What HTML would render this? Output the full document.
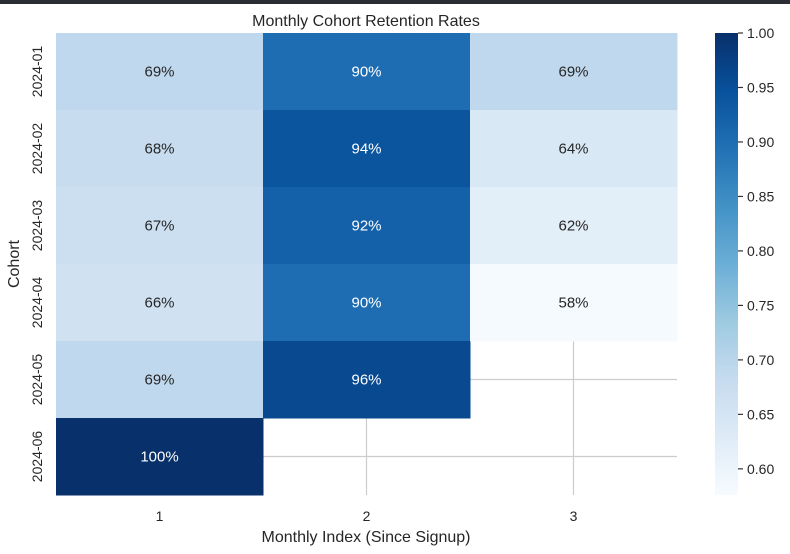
<!DOCTYPE html>
<html><head><meta charset="utf-8"><style>
body{margin:0;width:790px;height:554px;background:#fff;overflow:hidden;font-family:"Liberation Sans",sans-serif}
</style></head><body>
<div style="position:absolute;left:0;top:0;width:790px;height:4px;background:#2a2d31"></div>
<svg id="c" width="790" height="554" style="position:absolute;left:0;top:0" xmlns="http://www.w3.org/2000/svg"></svg>
<script>
const cohorts=["2024-01","2024-02","2024-03","2024-04","2024-05","2024-06"];
const monthIdx=["1","2","3"];
const m1=[0.69,0.68,0.67,0.66,0.69,1.00];
const m2=[0.90,0.94,0.92,0.90,0.96,null];
const m3=[0.69,0.64,0.62,0.58,null,null];
const cbTicks=[0.60,0.65,0.70,0.75,0.80,0.85,0.90,0.95,1.00];
const vmin=0.576, vmax=1.0;
const series=[m1,m2,m3];
const NS="http://www.w3.org/2000/svg";
const svg=document.getElementById('c');
const L=56,R=677,T=33,B=495;
const cw=(R-L)/monthIdx.length, rh=(B-T)/cohorts.length;
const xs=i=>L+i*cw, ys=j=>T+j*rh;
const stops=["#f7fbff","#deebf7","#c6dbef","#9ecae1","#6baed6","#4292c6","#2171b5","#08519c","#08306b"];
function hx(h){return [1,3,5].map(k=>parseInt(h.substr(k,2),16));}
function cmap(v){let t=Math.max(0,Math.min(1,(v-vmin)/(vmax-vmin)))*8;let i=Math.min(7,Math.floor(t)),f=t-i;
const a=hx(stops[i]),b=hx(stops[i+1]);return `rgb(${a.map((x,k)=>Math.round(x+(b[k]-x)*f)).join(',')})`;}
function el(tag,attrs,txt){const e=document.createElementNS(NS,tag);for(const k in attrs)e.setAttribute(k,attrs[k]);if(txt!=null)e.textContent=txt;svg.appendChild(e);return e;}
// grid
monthIdx.forEach((m,i)=>{const g=el('line',{x1:xs(i)+cw/2,x2:xs(i)+cw/2,y1:T,y2:B,stroke:'#cccccc','stroke-width':1.2});
});
cohorts.forEach((c,j)=>{const g=el('line',{x1:L,x2:R,y1:ys(j)+rh/2,y2:ys(j)+rh/2,stroke:'#cccccc','stroke-width':1.2});
});
// cells
series.forEach((s,i)=>s.forEach((v,j)=>{if(v==null)return;
const r=el('rect',{x:xs(i),y:ys(j),width:cw+0.5,height:rh+0.5,fill:cmap(v)});

const dark=(v-vmin)/(vmax-vmin)>0.6;
const t=el('text',{x:xs(i)+cw/2,y:ys(j)+rh/2+5,'text-anchor':'middle','font-size':15,fill:dark?'#fff':'#262626'},Math.round(v*100)+'%');
}));
// axis labels
monthIdx.forEach((m,i)=>{const t=el('text',{x:xs(i)+cw/2,y:B+26,'text-anchor':'middle','font-size':14,fill:'#262626'},m);
});
cohorts.forEach((c,j)=>{const y=ys(j)+rh/2;const t=el('text',{x:0,y:0,transform:`translate(42,${y}) rotate(-90)`,'text-anchor':'middle','font-size':14,fill:'#262626'},c);
});
let t;
t=el('text',{x:366,y:26,'text-anchor':'middle','font-size':16,fill:'#262626'},'Monthly Cohort Retention Rates');

t=el('text',{x:366,y:542,'text-anchor':'middle','font-size':16,fill:'#262626'},'Monthly Index (Since Signup)');

t=el('text',{x:0,y:0,transform:'translate(19,264) rotate(-90)','text-anchor':'middle','font-size':16,fill:'#262626'},'Cohort');

// colorbar
const cbX=715,cbW=23;const cy=v=>B-(v-vmin)/(vmax-vmin)*(B-T);
const defs=el('defs',{});const lg=document.createElementNS(NS,'linearGradient');lg.setAttribute('id','g');
lg.setAttribute('x1',0);lg.setAttribute('y1',1);lg.setAttribute('x2',0);lg.setAttribute('y2',0);
stops.forEach((s,k)=>{const st=document.createElementNS(NS,'stop');st.setAttribute('offset',k/8);st.setAttribute('stop-color',s);lg.appendChild(st);});
defs.appendChild(lg);
const cb=el('rect',{x:cbX,y:T,width:cbW,height:B-T,fill:'url(#g)'});

cbTicks.forEach(v=>{const y=cy(v);const l=el('line',{x1:cbX+cbW,x2:cbX+cbW+5,y1:y,y2:y,stroke:'#333','stroke-width':1.2});

const tt=el('text',{x:cbX+cbW+9,y:y+5,'font-size':14,fill:'#262626'},v.toFixed(2));
});
</script>
</body></html>
